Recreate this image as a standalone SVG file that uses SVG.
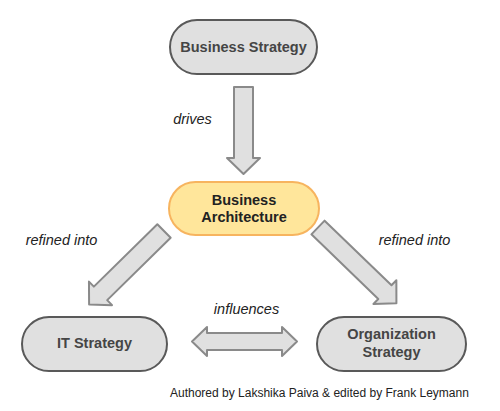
<svg xmlns="http://www.w3.org/2000/svg" width="500" height="411" viewBox="0 0 500 411">
<style>
.node{fill:#e0e0e0;stroke:#595959;stroke-width:2}
.core{fill:#ffe69b;stroke:#f7b45f;stroke-width:2}
.nt{font-family:"Liberation Sans",Arial,sans-serif;font-size:14.5px;font-weight:bold;fill:#454545;text-anchor:middle}
.ct{fill:#222}
.arr{fill:#e0e0e0;stroke:#8a8a8a;stroke-width:2;stroke-linejoin:round}
.lbl{font-family:"Liberation Sans",Arial,sans-serif;font-size:14.5px;font-style:italic;fill:#222;text-anchor:middle}
.foot{font-family:"Liberation Sans",Arial,sans-serif;font-size:12px;fill:#222}
</style>
<rect width="500" height="411" fill="#ffffff"/>
<g id="connectors">
<path class="arr" d="M234,87 L253,87 L253,158 L260,158 L243.5,174 L227,158 L234,158 Z"/>
<path class="arr" transform="translate(164,231) rotate(135.5)" d="M0,-9.5 L89,-9.5 L89,-16.5 L105,0 L89,16.5 L89,9.5 L0,9.5 Z"/>
<path class="arr" transform="translate(318,227.5) rotate(44)" d="M0,-9.5 L93,-9.5 L93,-16.5 L109,0 L93,16.5 L93,9.5 L0,9.5 Z"/>
<path class="arr" d="M192,341.5 L207,327 L207,333 L282,333 L282,327 L297,341.5 L282,356 L282,350 L207,350 L207,356 Z"/>
<text class="lbl" x="192.5" y="124">drives</text>
<text class="lbl" x="61.5" y="245">refined into</text>
<text class="lbl" x="414.5" y="245">refined into</text>
<text class="lbl" x="246.5" y="314">influences</text>
</g>
<g id="business-strategy">
<rect class="node" x="170" y="20" width="147" height="54" rx="27"/>
<text class="nt" x="243.5" y="52">Business Strategy</text>
</g>
<g id="business-architecture">
<rect class="core" x="169" y="182" width="150" height="53" rx="26.5"/>
<text class="nt ct" x="244" y="205">Business</text>
<text class="nt ct" x="244" y="222">Architecture</text>
</g>
<g id="it-strategy">
<rect class="node" x="22" y="317" width="145" height="54" rx="27"/>
<text class="nt" x="94.5" y="348">IT Strategy</text>
</g>
<g id="organization-strategy">
<rect class="node" x="317" y="317" width="149" height="54" rx="27"/>
<text class="nt" x="391.5" y="339">Organization</text>
<text class="nt" x="391.5" y="357">Strategy</text>
</g>
<text class="foot" x="170" y="397">Authored by Lakshika Paiva &amp; edited by Frank Leymann</text>
</svg>
